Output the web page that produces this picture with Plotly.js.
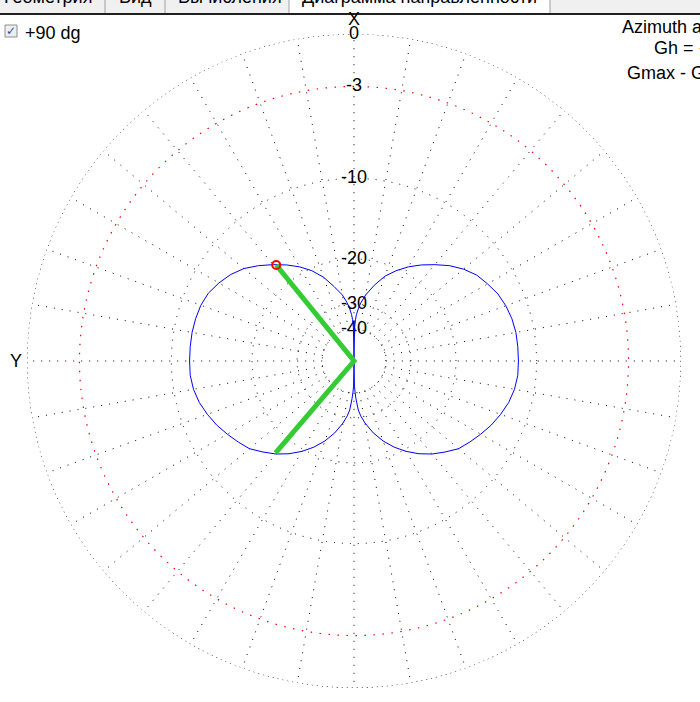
<!DOCTYPE html>
<html>
<head>
<meta charset="utf-8">
<script src="https://cdn.plot.ly/plotly-3.0.1.min.js"></script>
<style>
html, body { margin: 0; padding: 0; background: #ffffff; }
#chart { width: 700px; height: 702px; }
</style>
</head>
<body>
<div id="chart"></div>
<script>
// ---- Pattern data: azimuth (deg from X axis, counter-clockwise) and gain (dB) ----
const azimuthDeg = [
  0, 1, 2, 3, 5, 7, 10, 15, 20, 25, 30, 35, 40, 45, 50, 55, 60, 65, 70, 75, 80, 85, 90,
  95, 100, 105, 110, 115, 120, 125, 130, 135, 140, 145, 150, 155, 160, 165, 170, 173, 175, 177, 178, 179, 180,
  181, 182, 183, 185, 187, 190, 195, 200, 205, 210, 215, 220, 225, 230, 235, 240, 245, 250, 255, 260, 265, 270,
  275, 280, 285, 290, 295, 300, 305, 310, 315, 320, 325, 330, 335, 340, 345, 350, 353, 355, 357, 358, 359, 360
];
const gainDb = [
  -99, -39, -35.5, -33.5, -31, -29.3, -27.2, -24.8, -22.3, -20.4, -18.9, -17.6, -16.4, -15.2, -14.1, -13.3, -12.7, -12.2, -11.95, -11.85, -11.8, -11.8, -11.8,
  -11.8, -11.95, -12.25, -12.7, -13.2, -13.8, -14.4, -15.0, -16.0, -17.0, -18.2, -19.6, -21.2, -23.1, -25.4, -28.3, -30.5, -32.5, -37, -40, -44, -99,
  -44, -40, -37, -32.5, -30.5, -28.3, -25.4, -23.1, -21.2, -19.6, -18.2, -17.0, -16.0, -15.0, -14.4, -13.8, -13.2, -12.7, -12.25, -11.95, -11.8, -11.8,
  -11.8, -11.8, -11.9, -12.1, -12.4, -12.9, -13.4, -14.2, -15.2, -16.4, -17.6, -18.9, -20.4, -22.1, -24.5, -27.2, -29.3, -31, -33.5, -35.5, -39, -99
];

// Ring levels (dB) and labels
const gridRingDb = [-40, -30, -20, -10];
const halfPowerRingDb = -3;
const outerRingDb = 0;
const ringLabelDb = [0, -3, -10, -20, -30, -40];
const ringLabelText = ['0', '-3', '-10', '-20', '-30', '-40'];
const spokeStepDeg = 10;

// Beam-width markers (green) and marker point (red)
const beamAzDeg = [39, 139.5];
const beamDb = [-16.7, -17.1];
const markerAzDeg = [39];
const markerDb = [-16.7];

// ARRL log-periodic radial scale: 0.89 per 2 dB
function scale(db) { return Math.pow(0.89, -db / 2); }

const FONT = 'Liberation Sans, Arial, sans-serif';
const circleTheta = Array.from({ length: 361 }, (_, i) => i);
const ringR = db => circleTheta.map(() => scale(db));

const dom = { x: [27 / 700, 681 / 700], y: [14 / 702, 668 / 702] };
const angCommon = { rotation: 90, direction: 'counterclockwise', showticklabels: false, ticks: '', showline: false };

const traces = [
  { // outer 0 dB ring
    type: 'scatterpolar', subplot: 'polar', mode: 'lines',
    r: ringR(outerRingDb), theta: circleTheta,
    line: { color: '#000000', width: 1, dash: '1.2px,3.8px' }, hoverinfo: 'skip'
  },
  { // -3 dB red ring
    type: 'scatterpolar', subplot: 'polar2', mode: 'lines',
    r: ringR(halfPowerRingDb), theta: circleTheta,
    line: { color: '#ff0000', width: 1.2, dash: '1.5px,7.5px' }, hoverinfo: 'skip'
  },
  { // ring labels
    type: 'scatterpolar', subplot: 'polar2', mode: 'text',
    r: ringLabelDb.map(scale), theta: ringLabelDb.map(() => 0),
    text: ringLabelText, textposition: 'middle center', cliponaxis: false,
    textfont: { family: FONT, size: 18, color: '#000000' }, hoverinfo: 'skip'
  },
  { // pattern
    type: 'scatterpolar', subplot: 'polar2', mode: 'lines',
    r: gainDb.map(scale), theta: azimuthDeg,
    line: { color: '#0000ff', width: 1 }, hoverinfo: 'skip'
  },
  { // beam lines
    type: 'scatterpolar', subplot: 'polar2', mode: 'lines',
    r: [scale(beamDb[0]), 0, scale(beamDb[1])], theta: [beamAzDeg[0], 0, beamAzDeg[1]],
    line: { color: '#33cc33', width: 5 }, hoverinfo: 'skip'
  },
  { // red marker
    type: 'scatterpolar', subplot: 'polar2', mode: 'markers',
    r: markerDb.map(scale), theta: markerAzDeg, cliponaxis: false,
    marker: { symbol: 'circle-open', size: 8, color: '#ff0000', line: { width: 2, color: '#ff0000' } },
    hoverinfo: 'skip'
  }
];

const py = p => 1 - p / 702;
const px = p => p / 700;
const ann = (text, x, y, xanchor, extra) => Object.assign({
  text, x: px(x), y: py(y), xref: 'paper', yref: 'paper', xanchor, yanchor: 'middle',
  showarrow: false, font: { family: FONT, size: 18, color: '#000000' }
}, extra || {});

const layout = {
  width: 700, height: 702,
  margin: { l: 0, r: 0, t: 0, b: 0 },
  paper_bgcolor: '#ffffff',
  showlegend: false,
  hovermode: false,
  polar: {
    domain: dom, bgcolor: '#ffffff', hole: scale(gridRingDb[0]),
    radialaxis: { range: [0, 1], visible: false, showgrid: false },
    angularaxis: Object.assign({}, angCommon, {
      showgrid: true, tickmode: 'linear', tick0: 0, dtick: spokeStepDeg,
      gridcolor: '#000000', gridwidth: 1, griddash: '1px,7px'
    })
  },
  polar2: {
    domain: dom, bgcolor: 'rgba(0,0,0,0)',
    radialaxis: {
      range: [0, 1], showline: false, showticklabels: false, ticks: '',
      tickmode: 'array', tickvals: gridRingDb.map(scale),
      showgrid: true, gridcolor: '#000000', gridwidth: 1, griddash: '1px,7px'
    },
    angularaxis: Object.assign({}, angCommon, { showgrid: false })
  },
  shapes: [
    { type: 'rect', xref: 'paper', yref: 'paper', x0: 0, x1: 1, y0: py(14), y1: py(-5), fillcolor: '#f0f0f0', line: { width: 0 } },
    { type: 'rect', xref: 'paper', yref: 'paper', x0: px(289), x1: px(550), y0: py(14), y1: py(-5), fillcolor: '#ffffff', line: { color: '#a0a0a0', width: 1 } },
    { type: 'line', xref: 'paper', yref: 'paper', x0: px(105), x1: px(105), y0: py(13), y1: py(-5), line: { color: '#a0a0a0', width: 1 } },
    { type: 'line', xref: 'paper', yref: 'paper', x0: px(165), x1: px(165), y0: py(13), y1: py(-5), line: { color: '#a0a0a0', width: 1 } },
    { type: 'line', xref: 'paper', yref: 'paper', x0: 0, x1: 1, y0: py(14), y1: py(14), line: { color: '#202020', width: 2 } },
    { type: 'rect', xref: 'paper', yref: 'paper', x0: px(5), x1: px(17), y0: py(37), y1: py(25), fillcolor: '#eeeeee', line: { color: '#8f8f8f', width: 1 } }
  ],
  annotations: [
    ann('Геометрия', 2, -3, 'left'),
    ann('Вид', 117, -3, 'left'),
    ann('Вычисления', 176, -3, 'left'),
    ann('Диаграмма направленности', 300, -3, 'left'),
    ann('X', 354, 19, 'center'),
    ann('Y', 16, 361, 'center'),
    ann('+90 dg', 23, 33, 'left'),
    ann('✓', 11, 31, 'center', { font: { family: 'DejaVu Sans, sans-serif', size: 12, color: '#2f4f9f' } }),
    ann('Azimuth a', 620, 27, 'left'),
    ann('Gh = <span style="color:#e8a317">-</span>', 652, 48, 'left'),
    ann('Gmax - G', 625, 73, 'left')
  ]
};

Plotly.newPlot('chart', traces, layout, { displayModeBar: false, staticPlot: true });
</script>
</body>
</html>
